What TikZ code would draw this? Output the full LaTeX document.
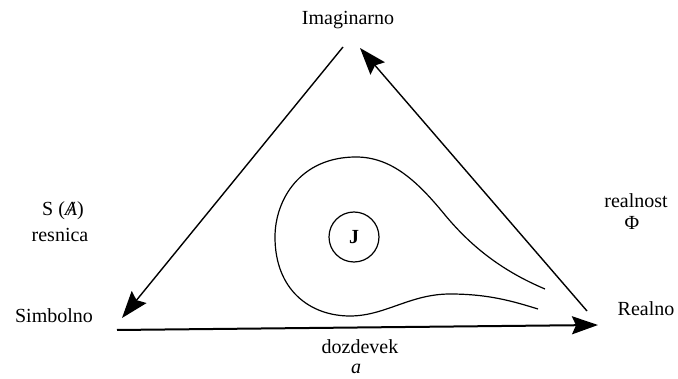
\documentclass[tikz,border=0pt]{standalone}
\usepackage{fontspec}
\setmainfont{Liberation Serif}
\usetikzlibrary{arrows.meta}
\begin{document}
\begin{tikzpicture}[x=1pt,y=-1pt,
  lbl/.style={font=\fontsize{20}{24}\selectfont, inner sep=0pt},
  side/.style={line width=1.4pt, -{Stealth[length=27pt,width=19pt,inset=4pt]}},
  base/.style={line width=2pt, -{Stealth[length=26pt,width=18pt,inset=4pt]}},
  curve/.style={line width=1.2pt}]
\useasboundingbox (0,0) rectangle (678,379);
% labels
\node[lbl] (imag) at (348,20) {Imaginarno};
\node[lbl] (simb) at (54,316) {Simbolno};
\node[lbl] (real) at (646,309) {Realno};
\node[lbl] (sa) at (63,211) {S (\textit{\ooalign{A\cr\hidewidth/\hidewidth}})};
\node[lbl] (resn) at (60,235) {resnica};
\node[lbl] (realn) at (636,201) {realnost};
\node[lbl] (phi) at (632,223) {Φ};
\node[lbl] (doz) at (360,347) {dozdevek};
\node[lbl] (a) at (356,369) {\textit{a}};
% endpoints
\coordinate (lt) at (343,47);
\coordinate (lb) at (122,318);
\coordinate (rb) at (587,311);
\coordinate (rt) at (360,48);
\coordinate (bl) at (117,330);
\coordinate (br) at (598,325);
\draw[side] (lt) -- (lb);
\draw[side] (rb) -- (rt);
\draw[base] (bl) -- (br);
% circle J
\node[circle, draw, line width=1.2pt, minimum size=50pt, inner sep=0pt,
      font=\fontsize{20}{22}\selectfont\bfseries] (J) at (354,237) {J};
% teardrop curve
\coordinate (c0) at (545,289);
\coordinate (c1) at (445,215);
\coordinate (c2) at (356,157);
\coordinate (c3) at (275,237);
\coordinate (c4) at (350,316);
\coordinate (c5) at (450,294);
\coordinate (c6) at (538,309);
\draw[curve] (c0) .. controls (500,270) and (470,245) .. (c1)
  .. controls (418,182) and (392,157) .. (c2)
  .. controls (300,157) and (275,200) .. (c3)
  .. controls (275,290) and (310,316) .. (c4)
  .. controls (385,316) and (410,294) .. (c5)
  .. controls (490,294) and (515,302) .. (c6);
\end{tikzpicture}
\end{document}
